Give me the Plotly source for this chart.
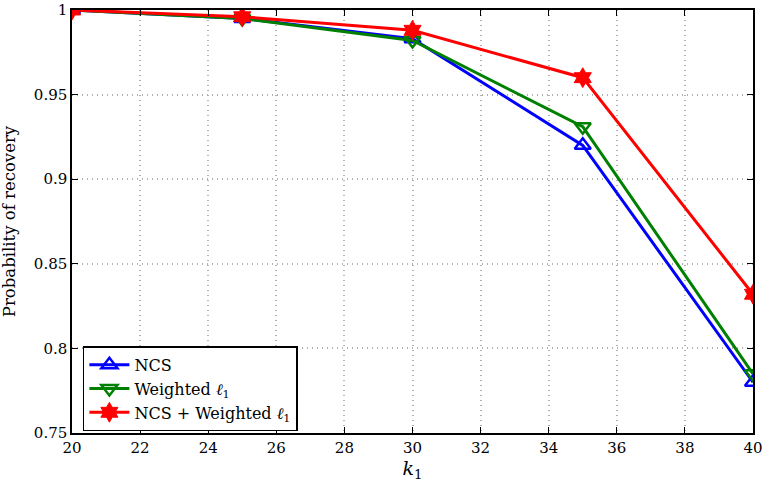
import plotly.graph_objects as go

k1 = [20, 25, 30, 35, 40]
ncs = [1.0, 0.995, 0.983, 0.920, 0.780]
weighted_l1 = [1.0, 0.995, 0.982, 0.931, 0.785]
ncs_weighted = [1.0, 0.996, 0.988, 0.960, 0.832]

x_ticks = list(range(20, 41, 2))
y_ticks = [0.75, 0.8, 0.85, 0.9, 0.95, 1.0]
y_tick_labels = ["0.75", "0.8", "0.85", "0.9", "0.95", "1"]

font_family = "DejaVu Serif"

fig = go.Figure()
fig.add_trace(go.Scatter(
    x=k1, y=ncs, mode="lines+markers", name="NCS",
    line=dict(color="#0000ff", width=3),
    marker=dict(symbol="triangle-up-open", size=14, color="#0000ff",
                line=dict(width=2.5, color="#0000ff")),
))
fig.add_trace(go.Scatter(
    x=k1, y=weighted_l1, mode="lines+markers", name="Weighted <i>ℓ</i><sub>1</sub>",
    line=dict(color="#008000", width=3),
    marker=dict(symbol="triangle-down-open", size=14, color="#008000",
                line=dict(width=2.5, color="#008000")),
))
fig.add_trace(go.Scatter(
    x=k1, y=ncs_weighted, mode="lines+markers", name="NCS + Weighted <i>ℓ</i><sub>1</sub>",
    line=dict(color="#ff0000", width=3),
    marker=dict(symbol="hexagram", size=15, color="#ff0000",
                line=dict(width=1, color="#ff0000")),
))

axis_common = dict(
    showline=True, linecolor="black", linewidth=1.5, mirror="ticks",
    ticks="inside", ticklen=6, tickcolor="black", automargin=False,
    ticklabeloverflow="allow",
    showgrid=True, gridcolor="#b0b0b0", griddash="1px,4px", gridwidth=1.5,
    zeroline=False, tickfont=dict(size=15, color="black", family=font_family),
)

fig.update_xaxes(range=[20, 40], tickvals=x_ticks,
                 title=dict(text="<i>k</i><sub>1</sub>", font=dict(size=19, family=font_family, color="black"),
                            standoff=2),
                 **axis_common)
fig.update_yaxes(range=[0.75, 1.0], tickvals=y_ticks, ticktext=y_tick_labels,
                 title=dict(text="Probability of recovery", font=dict(size=16.5, family=font_family, color="black"),
                            standoff=18),
                 **axis_common)

fig.update_layout(
    width=764, height=483,
    margin=dict(l=72, r=11, t=10, b=50),
    plot_bgcolor="white", paper_bgcolor="white",
    font=dict(family=font_family, color="black"),
    legend=dict(x=0.016, y=0.205, xanchor="left", yanchor="top",
                bordercolor="black", borderwidth=1.5, bgcolor="white",
                font=dict(size=16, family=font_family, color="black"),
                tracegroupgap=0, itemwidth=40),
    showlegend=True,
)

fig.write_html("out.html")
